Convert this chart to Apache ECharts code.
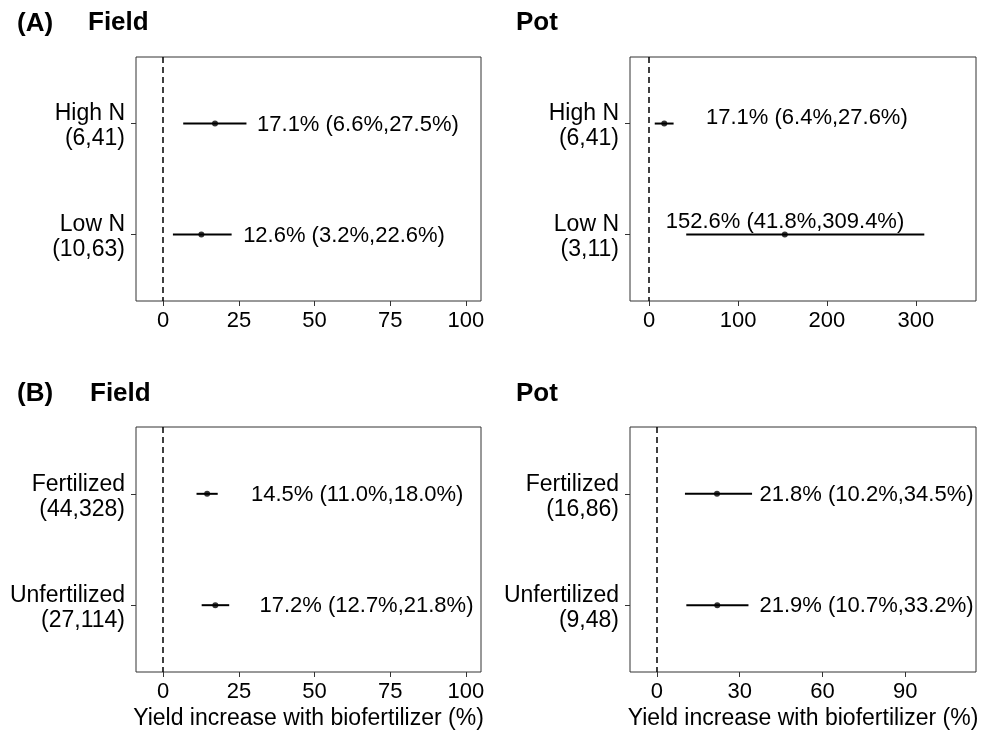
<!DOCTYPE html>
<html lang="en">
<head>
  <meta charset="UTF-8">
  <script src="https://cdn.jsdelivr.net/npm/echarts@6/dist/echarts.min.js"></script>
  <title>Yield increase with biofertilizer</title>
  <style>
    * { margin: 0; padding: 0; }
    html, body { width: 100%; height: 100%; background: #fff; }
    #chart { width: 982px; height: 733px; }
  </style>
</head>
<body>
<div id="chart"></div>
<script>
  // (A) nitrogen level
  var nLevels = ['High N', 'Low N'];
  var fieldNCounts = ['(6,41)', '(10,63)'];
  var fieldNMean = [17.1, 12.6];
  var fieldNLow = [6.6, 3.2];
  var fieldNHigh = [27.5, 22.6];

  var potNCounts = ['(6,41)', '(3,11)'];
  var potNMean = [17.1, 152.6];
  var potNLow = [6.4, 41.8];
  var potNHigh = [27.6, 309.4];

  // (B) fertilization
  var fertLevels = ['Fertilized', 'Unfertilized'];
  var fieldFCounts = ['(44,328)', '(27,114)'];
  var fieldFMean = [14.5, 17.2];
  var fieldFLow = [11.0, 12.7];
  var fieldFHigh = [18.0, 21.8];

  var potFCounts = ['(16,86)', '(9,48)'];
  var potFMean = [21.8, 21.9];
  var potFLow = [10.2, 10.7];
  var potFHigh = [34.5, 33.2];

  // tick labels
  var fieldTicks = [0, 25, 50, 75, 100];
  var potNTicks = [0, 100, 200, 300];
  var potFTicks = [0, 30, 60, 90];

  var FONT = '"Liberation Sans", Arial, sans-serif';
  var xTitle = 'Yield increase with biofertilizer (%)';

  // panel layout (pixel boxes, axis ranges, where the text labels sit)
  var panels = [
    { levels: nLevels, counts: fieldNCounts, mean: fieldNMean, low: fieldNLow, high: fieldNHigh,
      ticks: fieldTicks, min: -9, max: 105, left: 136, top: 57, width: 345, height: 244,
      labelX: [31, 26.4], labelDy: [1, 1], xName: '' },
    { levels: nLevels, counts: potNCounts, mean: potNMean, low: potNLow, high: potNHigh,
      ticks: potNTicks, min: -21.4, max: 367.5, left: 630, top: 57, width: 346, height: 244,
      labelX: [64, 18.8], labelDy: [-6, -13], xName: '' },
    { levels: fertLevels, counts: fieldFCounts, mean: fieldFMean, low: fieldFLow, high: fieldFHigh,
      ticks: fieldTicks, min: -9, max: 105, left: 136, top: 427, width: 345, height: 245,
      labelX: [29, 31.8], labelDy: [1, 1], xName: xTitle },
    { levels: fertLevels, counts: potFCounts, mean: potFMean, low: potFLow, high: potFHigh,
      ticks: potFTicks, min: -9.7, max: 115.6, left: 630, top: 427, width: 346, height: 245,
      labelX: [37.2, 37.2], labelDy: [1, 1], xName: xTitle }
  ];

  function fmt(v) { return v.toFixed(1) + '%'; }

  var grids = [], xAxes = [], yAxes = [], series = [];

  panels.forEach(function (p, k) {
    grids.push({
      left: p.left, top: p.top, width: p.width, height: p.height,
      show: true, borderColor: '#333', borderWidth: 1, backgroundColor: 'transparent'
    });
    xAxes.push({
      type: 'value', gridIndex: k, min: p.min, max: p.max,
      splitLine: { show: false },
      axisLine: { show: false, onZero: false },
      axisTick: { show: true, length: 5, customValues: p.ticks, lineStyle: { color: '#333' } },
      axisLabel: { customValues: p.ticks, margin: 9, color: '#000', fontSize: 22, fontFamily: FONT },
      name: p.xName, nameLocation: 'middle', nameGap: 35,
      nameTextStyle: { color: '#000', fontSize: 23, fontFamily: FONT }
    });
    yAxes.push({
      type: 'value', gridIndex: k, min: 0.4, max: 2.6, inverse: true,
      splitLine: { show: false },
      axisLine: { show: false, onZero: false },
      axisTick: { show: true, length: 5, customValues: [1, 2], lineStyle: { color: '#333' } },
      axisLabel: {
        // two-line labels sit a few px below their tick, as in the original
        customValues: [1.027, 2.027], margin: 11, color: '#000', fontSize: 23, fontFamily: FONT,
        lineHeight: 25, align: 'right',
        formatter: function (v) {
          var i = Math.round(v) - 1;
          return p.levels[i] + '\n' + p.counts[i];
        }
      }
    });

    // error bars with their text
    series.push({
      type: 'custom', xAxisIndex: k, yAxisIndex: k,
      encode: { x: [0, 1], y: 2 },
      data: p.mean.map(function (m, i) { return [p.low[i], p.high[i], i + 1]; }),
      renderItem: function (params, api) {
        var i = params.dataIndex;
        var a = api.coord([api.value(0), api.value(2)]);
        var b = api.coord([api.value(1), api.value(2)]);
        var t = api.coord([p.labelX[i], api.value(2)]);
        return {
          type: 'group',
          children: [
            { type: 'line', shape: { x1: a[0], y1: a[1], x2: b[0], y2: b[1] },
              style: { stroke: '#000', lineWidth: 2 } },
            { type: 'text', x: t[0], y: t[1] + p.labelDy[i],
              style: {
                text: fmt(p.mean[i]) + ' (' + fmt(p.low[i]) + ',' + fmt(p.high[i]) + ')',
                fill: '#000', fontSize: 22, fontFamily: FONT,
                align: 'left', verticalAlign: 'middle'
              } }
          ]
        };
      },
      silent: true
    });

    // point estimates + zero line
    series.push({
      type: 'scatter', xAxisIndex: k, yAxisIndex: k,
      symbol: 'circle', symbolSize: 6,
      itemStyle: { color: '#000' },
      data: p.mean.map(function (m, i) { return [m, i + 1]; }),
      markLine: {
        silent: true, symbol: 'none', label: { show: false },
        lineStyle: { color: '#000', type: [6, 4], width: 1.5 },
        data: [{ xAxis: 0 }]
      },
      silent: true
    });
  });

  var titleStyle = { color: '#000', fontSize: 26, fontWeight: 'bold', fontFamily: FONT };
  var titles = [
    { text: '(A)', left: 17, top: 11, textStyle: titleStyle },
    { text: 'Field', left: 88, top: 10, textStyle: titleStyle },
    { text: 'Pot', left: 516, top: 10, textStyle: titleStyle },
    { text: '(B)', left: 17, top: 381, textStyle: titleStyle },
    { text: 'Field', left: 90, top: 381, textStyle: titleStyle },
    { text: 'Pot', left: 516, top: 381, textStyle: titleStyle }
  ];
  titles.forEach(function (t) { t.padding = 0; });

  var myChart = echarts.init(document.getElementById('chart'));
  myChart.setOption({
    animation: false,
    backgroundColor: '#fff',
    title: titles,
    grid: grids,
    xAxis: xAxes,
    yAxis: yAxes,
    series: series
  });
</script>
</body>
</html>
